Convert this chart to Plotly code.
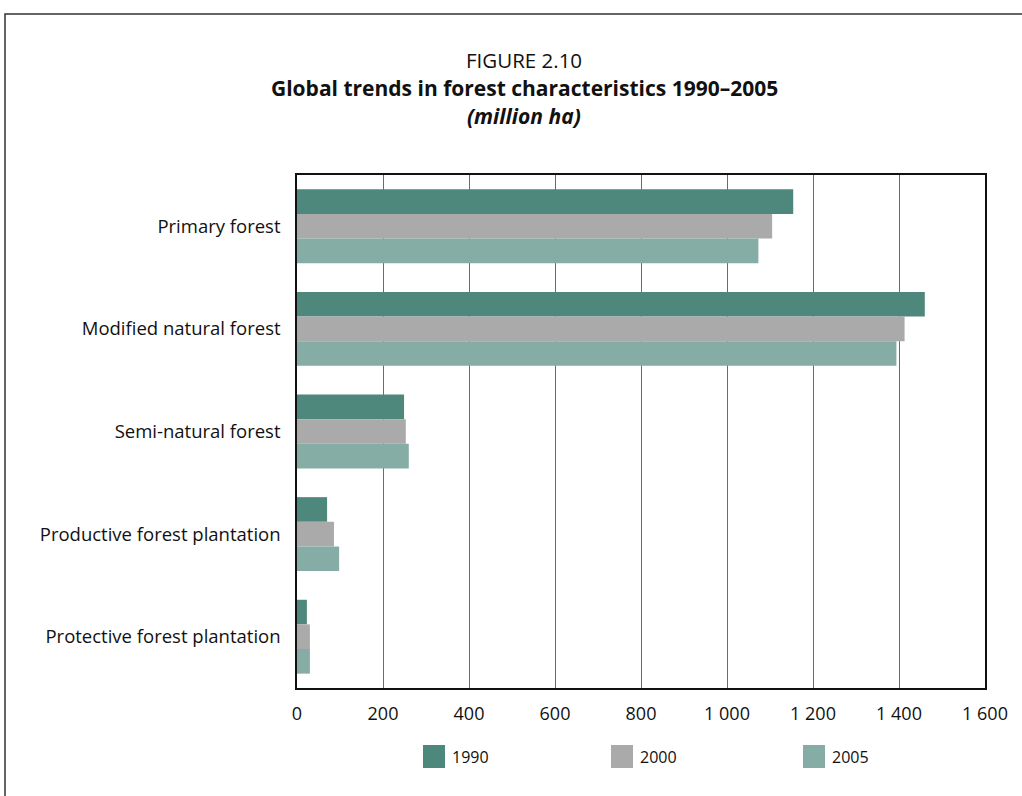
import plotly.graph_objects as go

categories = ["Primary forest", "Modified natural forest", "Semi-natural forest",
              "Productive forest plantation", "Protective forest plantation"]
years = ["1990", "2000", "2005"]
values_1990 = [1154, 1460, 249, 70, 23]
values_2000 = [1105, 1413, 253, 86, 30]
values_2005 = [1073, 1394, 260, 98, 30]
tick_vals = [0, 200, 400, 600, 800, 1000, 1200, 1400, 1600]
tick_text = ["0", "200", "400", "600", "800", "1 000", "1 200", "1 400", "1 600"]
colors = ["#4E877C", "#AAAAAA", "#86ADA5"]

W, H = 1022, 796
L, R, T, B = 297, 37, 175, 108
PW, PH = W - L - R, H - T - B

def px_x(px):
    return (px - L) / PW

def px_y(py):
    return (H - B - py) / PH

FONT = "Open Sans"

fig = go.Figure()
for name, vals, col in zip(years, [values_1990, values_2000, values_2005], colors):
    fig.add_trace(go.Bar(y=categories, x=vals, name=name, orientation="h",
                         marker=dict(color=col, line=dict(width=0)),
                         showlegend=False))

shapes = []
# outer frame
shapes.append(dict(type="rect", xref="paper", yref="paper",
                   x0=px_x(5), x1=px_x(1040), y0=px_y(815), y1=px_y(14),
                   line=dict(color="#333333", width=1.5), fillcolor="rgba(0,0,0,0)", layer="below"))

annotations = [
    dict(text="FIGURE 2.10", x=px_x(524), y=px_y(60), xref="paper", yref="paper",
         showarrow=False, font=dict(family=FONT, size=20.5, color="#111111"), xanchor="center", yanchor="middle"),
    dict(text="<b>Global trends in forest characteristics 1990–2005</b>", x=px_x(524), y=px_y(88),
         xref="paper", yref="paper", showarrow=False,
         font=dict(family=FONT, size=21, color="#111111"), xanchor="center", yanchor="middle"),
    dict(text="<b><i>(million ha)</i></b>", x=px_x(524), y=px_y(116), xref="paper", yref="paper",
         showarrow=False, font=dict(family=FONT, size=21, color="#111111"), xanchor="center", yanchor="middle"),
]

# custom legend
legend_x = [423, 611, 803]
for lx, name, col in zip(legend_x, years, colors):
    shapes.append(dict(type="rect", xref="paper", yref="paper",
                       x0=px_x(lx), x1=px_x(lx + 22), y0=px_y(768), y1=px_y(745),
                       line=dict(width=0), fillcolor=col))
    annotations.append(dict(text=name, x=px_x(lx + 27), y=px_y(757), xref="paper", yref="paper",
                            showarrow=False, xanchor="left", yanchor="middle",
                            font=dict(family=FONT, size=16, color="#111111")))

fig.update_layout(
    width=W, height=H,
    margin=dict(l=L, r=R, t=T, b=B, pad=0),
    paper_bgcolor="white", plot_bgcolor="white",
    barmode="group", bargap=0.28, bargroupgap=0,
    font=dict(family=FONT, size=16, color="#111111"),
    shapes=shapes, annotations=annotations,
    showlegend=False,
)
fig.update_xaxes(range=[0, 1600], tickvals=tick_vals, ticktext=tick_text,
                 showgrid=True, gridcolor="#3A8275", gridwidth=1.3,
                 zeroline=False, showline=True, linecolor="#111111", linewidth=1.5, mirror=True,
                 ticks="", ticklabelstandoff=9, tickfont=dict(family=FONT, size=18, color="#111111"))
fig.update_yaxes(autorange="reversed", showgrid=False, zeroline=False,
                 showline=True, linecolor="#111111", linewidth=1.5, mirror=True,
                 ticks="", ticklabelstandoff=11, tickfont=dict(family=FONT, size=18.5, color="#111111"))

fig.write_html("out.html")
